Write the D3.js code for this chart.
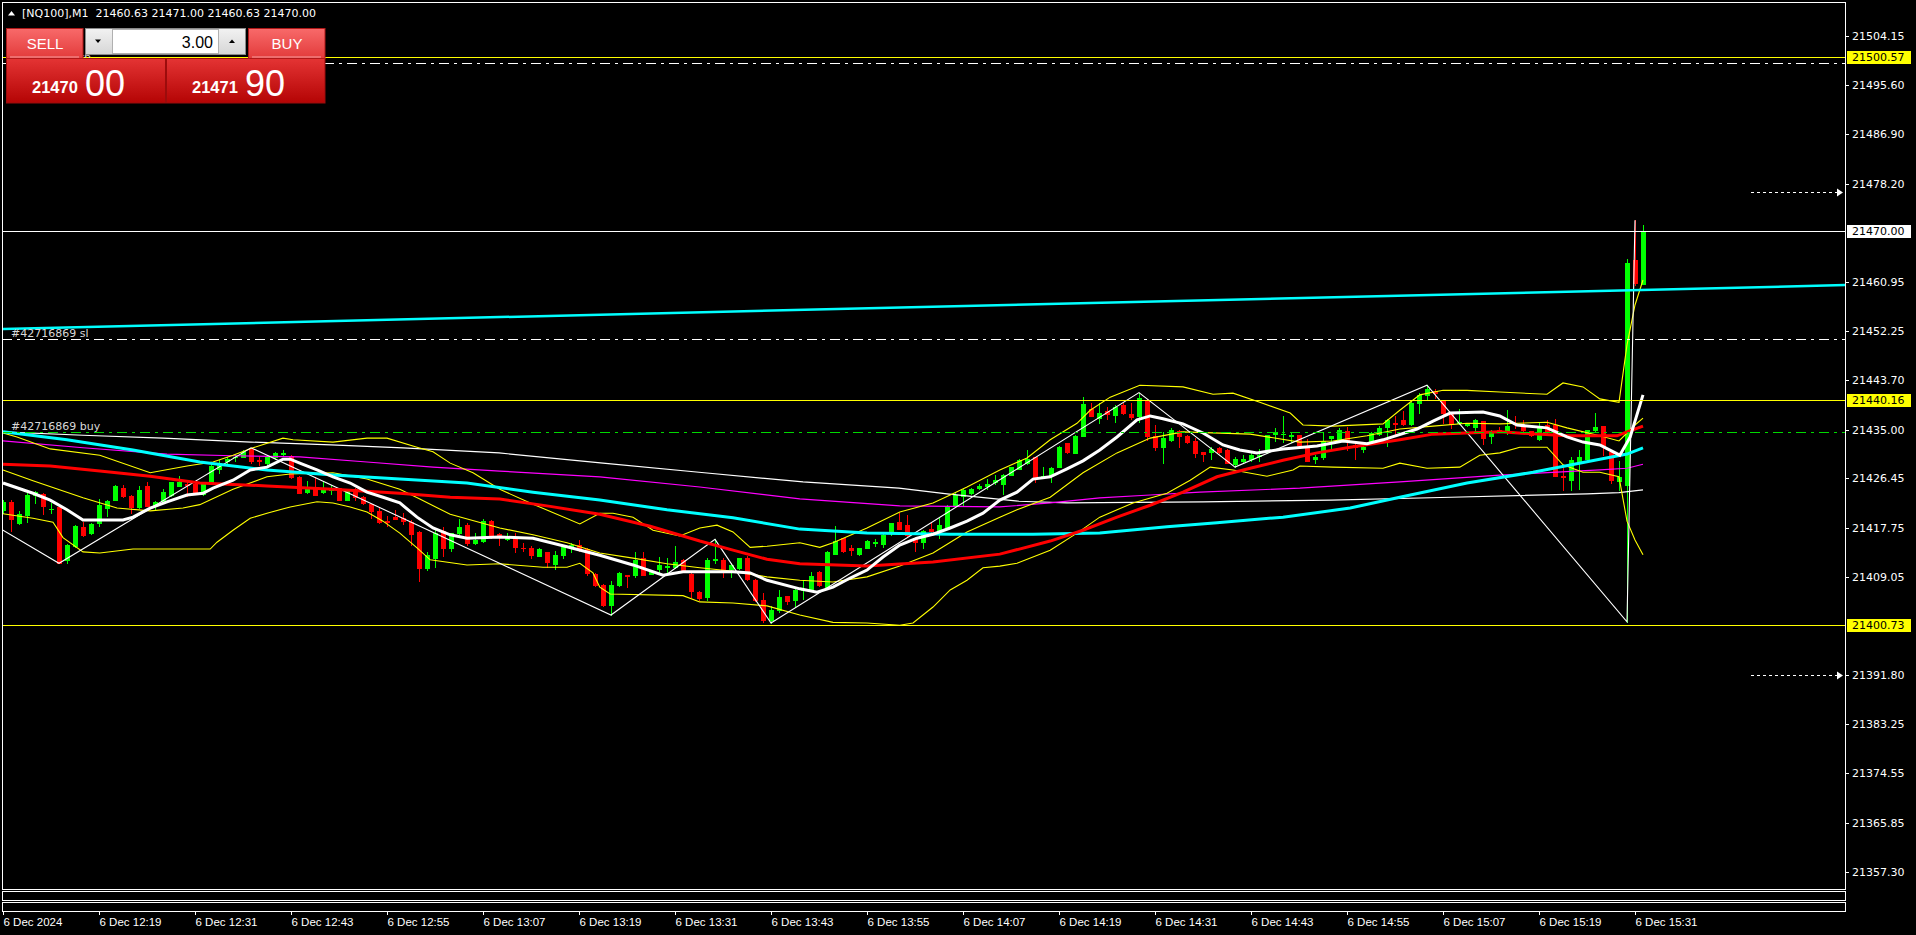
<!DOCTYPE html>
<html>
<head>
<meta charset="utf-8">
<script src="https://cdn.jsdelivr.net/npm/d3@7/dist/d3.min.js"></script>
<style>
html,body{margin:0;padding:0;background:#000;overflow:hidden;}
svg{display:block;}
</style>
</head>
<body>
<svg id="chart" width="1916" height="935"></svg>
<script>
// ================= DATA =================
const symbolTitle = "[NQ100],M1";
const headerOHLC = ["21460.63", "21471.00", "21460.63", "21470.00"];
const bidParts = ["21470", "00"];
const askParts = ["21471", "90"];
const lotSize = "3.00";
const orderId = "#42716869";

// 1-minute bars, 6 Dec 12:07 ... 15:32 (bar index 0..205)
const opens = [
21420.9,21422.3,21418.6,21420.0,21423.5,21423.7,21421.0,21421.4,21412.1,21414.5,
21417.9,21416.8,21418.5,21421.3,21422.6,21424.8,21423.3,21421.4,21425.0,21421.7,
21422.5,21423.5,21425.1,21425.4,21425.5,21423.6,21425.4,21428.1,21429.4,21430.1,
21430.2,21431.5,21429.6,21429.1,21430.1,21430.7,21430.4,21426.6,21424.1,21424.7,
21424.0,21424.3,21424.7,21422.6,21424.5,21423.1,21422.0,21420.6,21418.9,21419.6,
21419.4,21418.8,21417.0,21410.7,21412.4,21417.2,21414.1,21416.8,21418.2,21415.0,
21415.4,21418.9,21416.6,21415.8,21416.2,21414.2,21414.2,21412.8,21413.4,21411.4,
21412.9,21414.3,21414.7,21414.0,21409.6,21407.7,21404.1,21407.7,21409.4,21409.4,
21412.4,21409.6,21410.5,21410.8,21410.8,21412.1,21409.6,21406.4,21405.6,21412.1,
21412.1,21410.4,21410.7,21412.5,21408.6,21405.0,21401.6,21403.3,21405.7,21405.0,
21406.8,21406.9,21410.0,21407.4,21413.2,21415.9,21414.1,21413.1,21414.2,21415.0,
21414.9,21416.8,21418.7,21418.2,21415.9,21415.3,21417.5,21417.1,21417.9,21421.6,
21423.4,21423.8,21424.8,21425.1,21425.7,21425.5,21427.0,21428.1,21429.1,21430.1,
21426.6,21427.0,21428.5,21432.6,21430.8,21433.9,21438.7,21437.1,21438.2,21437.6,
21439.4,21437.7,21437.3,21440.2,21433.9,21431.9,21433.2,21434.8,21433.9,21433.0,
21431.0,21431.0,21431.7,21431.4,21429.0,21429.5,21429.8,21430.4,21431.1,21434.3,
21434.2,21433.9,21434.0,21431.8,21429.8,21430.1,21433.5,21433.2,21434.7,21432.3,
21431.5,21432.7,21434.3,21435.4,21436.2,21436.7,21435.9,21439.7,21441.1,21441.8,
21440.1,21438.1,21436.1,21435.8,21435.4,21436.5,21433.8,21435.0,21434.6,21436.2,
21435.6,21434.7,21433.3,21435.8,21435.8,21426.8,21426.1,21429.5,21429.8,21434.9,
21435.6,21431.0,21425.9,21425.3,21464.9,21460.63];
const highs = [
21422.7,21422.6,21420.7,21423.8,21424.2,21423.9,21422.1,21421.6,21414.9,21418.2,
21418.7,21418.6,21422.8,21422.6,21425.3,21425.2,21423.5,21425.1,21425.8,21422.5,
21424.5,21425.8,21426.8,21425.7,21426.0,21425.7,21429.1,21429.6,21430.1,21430.6,
21431.4,21431.8,21430.2,21430.2,21431.1,21431.4,21430.5,21426.8,21426.0,21426.7,
21425.8,21425.3,21424.8,21424.3,21424.7,21423.3,21422.0,21421.2,21419.8,21420.9,
21420.3,21419.1,21417.2,21413.5,21417.3,21417.8,21416.9,21419.2,21418.5,21416.8,
21419.2,21419.1,21416.8,21416.8,21416.8,21415.0,21414.6,21414.1,21413.5,21413.7,
21414.7,21415.0,21415.6,21414.1,21409.7,21407.9,21408.3,21410.0,21409.4,21413.5,
21413.4,21410.3,21412.6,21412.4,21414.5,21412.2,21409.7,21406.7,21412.4,21415.7,
21412.4,21411.5,21412.5,21412.8,21408.7,21406.3,21403.9,21406.8,21405.8,21406.9,
21408.6,21410.0,21410.1,21413.7,21418.1,21416.0,21414.7,21414.2,21415.6,21415.7,
21416.6,21418.6,21420.3,21419.9,21416.2,21417.3,21418.5,21419.4,21421.7,21423.8,
21424.5,21424.8,21425.4,21426.3,21427.0,21427.2,21428.5,21429.8,21431.4,21430.2,
21428.4,21428.4,21432.1,21432.7,21434.0,21440.8,21439.6,21439.6,21438.9,21439.3,
21439.6,21439.6,21441.5,21440.3,21435.8,21434.6,21435.2,21435.0,21434.0,21433.5,
21431.1,21431.9,21432.0,21431.5,21430.1,21430.5,21430.8,21431.5,21434.0,21435.2,
21437.4,21434.5,21434.0,21433.3,21430.5,21434.5,21433.9,21435.2,21435.5,21432.7,
21432.3,21434.6,21435.6,21436.8,21437.3,21438.3,21439.9,21441.4,21442.8,21442.2,
21440.2,21438.1,21438.6,21436.1,21436.8,21436.5,21435.0,21435.4,21438.4,21437.3,
21436.6,21434.7,21436.2,21436.6,21436.8,21428.5,21430.2,21431.4,21435.0,21438.0,
21435.6,21431.0,21429.4,21465.0,21471.8,21471.0];
const lows = [
21420.4,21417.2,21418.4,21418.8,21422.1,21420.2,21420.4,21411.5,21411.6,21414.4,
21416.3,21416.6,21418.0,21419.8,21422.6,21423.2,21420.3,21421.3,21421.6,21420.9,
21422.3,21423.4,21425.1,21423.3,21423.9,21423.5,21425.4,21427.4,21429.2,21429.4,
21430.1,21429.1,21428.8,21428.5,21429.9,21430.5,21426.4,21423.9,21423.9,21423.5,
21423.9,21423.7,21422.6,21422.6,21422.6,21422.0,21419.4,21418.6,21418.0,21419.2,
21418.4,21414.7,21408.3,21410.3,21410.9,21412.8,21413.7,21416.6,21414.7,21414.9,
21415.3,21415.9,21414.7,21415.6,21413.4,21413.7,21412.5,21412.8,21410.9,21410.4,
21412.4,21413.5,21413.7,21409.4,21407.5,21403.9,21402.4,21407.5,21407.4,21409.1,
21409.4,21409.6,21410.0,21409.7,21410.6,21410.2,21405.6,21405.0,21405.1,21411.6,
21409.1,21409.1,21410.4,21408.6,21404.9,21401.2,21401.0,21403.0,21404.3,21403.9,
21405.3,21406.8,21407.5,21407.2,21413.1,21413.5,21412.9,21412.9,21414.1,21414.5,
21414.4,21416.4,21417.5,21416.3,21413.7,21414.1,21416.9,21415.9,21417.9,21421.6,
21421.6,21423.7,21424.5,21424.5,21425.5,21423.7,21427.0,21428.0,21429.0,21425.8,
21426.4,21425.7,21428.4,21430.9,21430.8,21433.9,21437.3,21436.2,21436.8,21436.4,
21437.7,21436.8,21436.4,21433.2,21431.4,21429.1,21433.0,21431.9,21432.7,21430.1,
21429.4,21429.9,21430.8,21429.1,21428.4,21429.2,21429.5,21429.5,21430.8,21433.0,
21432.9,21432.9,21432.1,21429.4,21429.1,21429.9,21431.7,21432.9,21431.4,21429.8,
21431.1,21432.6,21434.0,21432.1,21434.3,21435.8,21435.8,21438.0,21440.2,21440.5,
21436.1,21435.2,21435.9,21435.6,21434.7,21432.5,21432.7,21434.5,21434.3,21435.2,
21434.6,21433.9,21433.2,21434.3,21426.8,21424.3,21424.4,21424.5,21429.7,21434.6,
21430.5,21425.6,21424.3,21401.2,21460.4,21460.63];
const closes = [
21422.3,21419.2,21420.1,21423.5,21424.0,21421.6,21421.1,21411.6,21414.7,21418.0,
21416.4,21418.4,21421.7,21422.4,21425.1,21423.3,21421.4,21424.4,21421.6,21422.2,
21424.1,21425.7,21425.7,21425.2,21424.1,21425.4,21428.6,21429.2,21429.9,21430.2,
21431.1,21429.5,21429.5,21430.1,21430.9,21430.9,21426.6,21423.9,21424.7,21423.5,
21424.4,21424.4,21422.6,21424.2,21423.2,21422.1,21420.7,21418.8,21418.7,21419.3,
21419.0,21416.6,21410.6,21412.9,21416.9,21414.1,21416.8,21417.9,21415.0,21415.5,
21418.9,21416.1,21416.3,21416.2,21414.3,21414.1,21412.9,21414.0,21411.8,21412.9,
21414.3,21414.7,21413.9,21409.8,21407.7,21404.1,21407.7,21409.7,21409.3,21412.1,
21409.5,21409.9,21411.2,21411.0,21411.7,21410.3,21406.7,21405.4,21412.1,21412.3,
21410.0,21411.2,21412.4,21408.7,21405.0,21401.6,21403.2,21405.6,21404.9,21406.8,
21407.0,21409.2,21407.7,21413.5,21415.4,21413.7,21413.8,21414.2,21415.4,21415.3,
21416.5,21418.5,21417.5,21416.5,21415.3,21417.1,21417.1,21418.2,21421.6,21423.5,
21424.4,21424.5,21425.1,21425.5,21426.1,21427.0,21428.4,21429.7,21429.9,21426.4,
21426.8,21428.2,21432.0,21431.1,21433.9,21439.5,21437.3,21438.0,21437.7,21439.0,
21437.9,21437.2,21440.5,21433.9,21432.0,21433.6,21435.0,21433.8,21432.8,21430.8,
21430.7,21431.6,21431.1,21429.2,21429.8,21429.8,21430.5,21430.5,21434.0,21434.5,
21434.3,21434.0,21432.3,21429.5,21430.2,21433.0,21433.8,21434.9,21433.2,21432.0,
21432.0,21434.4,21435.3,21436.6,21435.9,21435.9,21439.7,21441.1,21442.1,21441.5,
21437.9,21435.9,21436.4,21436.0,21436.6,21433.5,21434.7,21434.8,21435.6,21436.0,
21434.9,21434.0,21435.6,21434.8,21426.8,21426.6,21429.6,21430.1,21435.0,21435.4,
21432.1,21426.2,21426.7,21464.2,21460.7,21470.0];

const timeTickBars = [0,12,24,36,48,60,72,84,96,108,120,132,144,156,168,180,192,204];
const timeTickLabels = ["6 Dec 2024","6 Dec 12:19","6 Dec 12:31","6 Dec 12:43","6 Dec 12:55",
  "6 Dec 13:07","6 Dec 13:19","6 Dec 13:31","6 Dec 13:43","6 Dec 13:55","6 Dec 14:07",
  "6 Dec 14:19","6 Dec 14:31","6 Dec 14:43","6 Dec 14:55","6 Dec 15:07","6 Dec 15:19","6 Dec 15:31"];
const priceTicks = [21504.15,21495.60,21486.90,21478.20,21460.95,21452.25,21443.70,21435.00,
  21426.45,21417.75,21409.05,21391.80,21383.25,21374.55,21365.85,21357.30];

// indicator lines, [bar index, price]
const maFast = [[0,21425.6],[3.75,21423.8],[5.9,21422.6],[8,21420.9],[10,21419.1],[12.1,21419.1],[15,21419.1],[16.25,21419.6],[18.4,21421.2],[20.5,21422.3],[23,21423.5],[25,21423.8],[26.25,21424.7],[28.75,21426.1],[30.9,21427.9],[33,21428.4],[35,21429.8],[35.9,21429.8],[37.1,21429.1],[39.25,21427.9],[41.25,21426.7],[43.4,21425.6],[45.5,21424.0],[47.5,21423.1],[49.6,21422.1],[51.75,21419.6],[53.75,21417.7],[55.9,21416.5],[58,21415.9],[62.1,21416.1],[66.25,21415.9],[70.5,21414.4],[74.6,21412.9],[78.75,21411.2],[82.5,21409.4],[85,21410.0],[91.25,21410.0],[93.4,21409.8],[95.5,21408.5],[99.6,21407.0],[101.75,21406.4],[103.75,21407.3],[105.9,21408.9],[108,21410.3],[110,21412.6],[112.1,21414.7],[114.25,21415.9],[116.25,21416.6],[118.4,21417.7],[120.5,21418.9],[122.5,21420.3],[124.6,21422.6],[126.75,21424.0],[128.75,21426.3],[130.9,21426.7],[133,21428.1],[135,21429.5],[137.1,21431.4],[139.25,21433.7],[141.75,21436.7],[143.4,21437.4],[145,21436.9],[147.5,21436.0],[150,21434.4],[152.5,21432.3],[154.6,21431.4],[156.75,21430.9],[160,21431.6],[164.25,21432.1],[167.5,21433.0],[170.5,21432.5],[172.5,21433.2],[176.75,21435.1],[178.75,21436.5],[180.9,21437.9],[185,21438.1],[187.1,21437.4],[189.25,21435.8],[193,21435.3],[195.5,21433.7],[197.5,21432.8],[199.6,21432.3],[202.1,21430.5],[203.4,21433.7],[205,21441.1]];
const maMid = [[0,21428.9],[5.9,21428.6],[12.1,21427.7],[18.4,21426.8],[24.6,21425.6],[33,21425.1],[41.25,21424.5],[49.6,21423.8],[55.9,21423.1],[62.1,21422.8],[68.4,21421.5],[74.6,21420.1],[80.9,21418.0],[87.1,21415.4],[91.25,21413.8],[95.5,21412.2],[99.6,21411.4],[108,21411.0],[116.25,21411.7],[124.6,21413.1],[130.9,21415.4],[135,21417.3],[139.25,21419.6],[143.4,21421.7],[147.5,21424.0],[151.75,21426.7],[155.9,21428.2],[160,21429.6],[164.25,21430.9],[168.4,21431.9],[174.6,21433.2],[178.75,21434.2],[187.1,21434.6],[195.5,21433.9],[201.75,21433.9],[203.4,21434.8],[205,21435.6]];
const maSlow = [[0,21434.6],[8,21433.2],[16.25,21431.4],[24.6,21429.3],[33,21427.9],[41.25,21427.0],[49.6,21426.3],[58,21425.6],[66.25,21424.0],[74.6,21422.6],[83,21420.9],[91.25,21419.5],[99.6,21417.5],[108,21416.8],[118.4,21416.6],[128.75,21416.6],[137.1,21416.8],[145.5,21417.9],[151.75,21418.6],[160,21419.6],[168.4,21421.2],[174.6,21423.1],[183,21425.6],[191.25,21427.5],[199.6,21429.8],[203,21430.7],[205,21431.8]];
const maSlower = [[0,21433.0],[10,21431.8],[20.5,21430.7],[28.75,21430.4],[37.1,21430.2],[45.5,21429.3],[53.75,21428.4],[62.1,21427.7],[74.6,21426.7],[87.1,21424.9],[99.6,21422.8],[112.1,21421.6],[124.6,21421.4],[130.9,21422.1],[137.1,21423.0],[143.4,21423.5],[149.6,21424.0],[162.1,21424.7],[174.6,21425.8],[187.1,21427.0],[199.6,21427.9],[203,21428.2],[205,21428.9]];
const maSlowest = [[0,21434.6],[10,21434.0],[20,21433.5],[31,21432.8],[41,21432.3],[50,21431.8],[62,21430.9],[75,21429.1],[87,21427.5],[100,21425.8],[112,21424.7],[118,21423.7],[127,21422.4],[133,21422.1],[150,21422.3],[166,21422.6],[181,21423.1],[198,21423.7],[202,21423.9],[205,21424.4]];
const bbUpper = [[0,21434.4],[1.75,21433.7],[5.9,21431.6],[12.1,21430.5],[18.4,21427.4],[23,21428.6],[26.25,21429.3],[28.75,21430.5],[31.25,21431.8],[35,21433.5],[36.25,21433.2],[41.25,21432.8],[45.5,21433.5],[48,21433.5],[51.75,21431.9],[53.75,21431.1],[55.9,21429.1],[58.75,21427.4],[62.1,21424.5],[65.9,21422.1],[72.1,21418.4],[74.6,21420.3],[76.25,21420.3],[78.75,21419.6],[81.25,21417.3],[84.6,21416.3],[87.1,21417.7],[89.25,21418.2],[91.25,21417.0],[93.4,21414.3],[95.5,21414.5],[99.6,21415.1],[102.1,21414.3],[103.75,21415.1],[108,21417.7],[112.1,21420.5],[116.25,21422.1],[118.4,21423.5],[120.5,21424.9],[124.6,21427.9],[128,21430.0],[130.9,21433.2],[134.25,21436.1],[135.9,21438.4],[138.4,21440.7],[142.1,21442.8],[147.5,21442.5],[151.25,21441.2],[153.75,21441.4],[157.1,21439.8],[160.9,21437.9],[162.5,21435.8],[166.25,21435.6],[172.5,21436.0],[174.6,21438.4],[177.1,21441.1],[180,21441.9],[183,21441.9],[187.1,21441.6],[193,21441.2],[195,21443.2],[197.5,21442.5],[199.6,21440.4],[202,21439.8],[203,21449.9],[204,21456.9],[205,21461.3]];
const bbMiddle = [[0,21427.9],[3.75,21426.0],[10,21423.0],[14.25,21421.2],[18.4,21420.7],[22.5,21421.2],[24.6,21421.8],[28.75,21424.5],[33,21426.7],[35.9,21427.2],[41.25,21427.4],[45.5,21426.3],[49.6,21424.5],[52.1,21422.8],[55.9,21420.1],[62.1,21417.7],[66.25,21416.5],[70.5,21415.1],[74.6,21413.3],[78.75,21412.4],[83,21411.4],[87.1,21410.7],[91.25,21410.1],[95.5,21409.1],[99.6,21408.5],[103.75,21408.2],[108,21409.1],[112.1,21411.0],[116.25,21413.3],[120.5,21417.0],[124.6,21419.6],[126.75,21420.9],[130.9,21423.1],[135,21427.4],[139.25,21430.9],[143.4,21433.5],[147.5,21434.6],[155.9,21434.2],[162.1,21432.8],[166.25,21433.0],[170.5,21433.9],[174.6,21435.1],[178.75,21435.6],[183,21436.1],[187.1,21436.0],[193,21436.3],[195.5,21435.3],[199.6,21433.9],[202,21433.0],[203,21434.4],[204,21435.8],[205,21437.0]];
const bbLower = [[0,21420.2],[3.75,21419.4],[6.25,21418.7],[7.5,21416.0],[10,21413.5],[12.1,21413.3],[16.25,21414.0],[25.9,21414.0],[26.75,21415.2],[28.75,21417.3],[30.9,21419.4],[33,21420.3],[35.9,21421.4],[39.25,21422.3],[41.25,21422.1],[43.4,21421.4],[45.5,21420.5],[47.5,21418.9],[49.6,21416.8],[51.75,21414.2],[53.4,21412.1],[58,21411.2],[62.1,21411.4],[67.5,21410.8],[70.5,21410.8],[72.1,21411.5],[73.75,21409.8],[74.6,21407.3],[75.9,21406.1],[85,21405.8],[87.1,21404.7],[91.25,21404.5],[95.5,21404.0],[99.6,21402.4],[103.75,21401.1],[108,21401.0],[112.1,21400.6],[113.75,21401.0],[116.25,21403.8],[118.4,21406.8],[120.5,21408.5],[122.5,21410.7],[124.6,21411.0],[126.75,21411.5],[130.9,21413.8],[134.25,21416.8],[137.1,21419.6],[141.25,21422.1],[145.5,21423.8],[148.4,21426.1],[150.9,21428.4],[153.75,21427.9],[158,21426.8],[161.25,21427.9],[162.1,21428.6],[166.25,21428.4],[172.5,21428.2],[174.6,21429.1],[178,21428.2],[182.1,21428.4],[184.6,21430.5],[187.1,21430.9],[189.6,21431.9],[193,21431.9],[195,21428.8],[197.5,21427.5],[199.6,21427.5],[202,21426.7],[203,21418.9],[204,21415.6],[205,21413.0]];
const zigzag = [[-10,21425.6],[7,21411.5],[31,21431.8],[76,21402.4],[89,21415.7],[96,21401.0],[142,21441.5],[154,21428.4],[178,21442.8],[203,21401.2],[204,21471.8]];

// chart objects
const trendline = [[0,21452.7],[230.25,21460.4]];
const yellowLevels = [21500.57, 21440.16, 21400.73];
const bidLevel = 21470.00;
const tpLevel = 21499.4;
const slLevel = 21450.9;
const entryLevel = 21434.5;
const arrowLevels = [21476.8, 21391.8];

// ================= DRAW =================
const svg = d3.select("#chart");
const x = d3.scaleLinear().domain([0, 205]).range([3, 1643]);
const y = d3.scaleLinear().domain([21400.73, 21470]).range([624.5, 230.5]);
const L = 2, R = 1845, T = 2, B = 889;

const defs = svg.append("defs");
defs.append("clipPath").attr("id","plotClip").append("rect")
  .attr("x",L).attr("y",T).attr("width",R-L).attr("height",B-T);
function grad(id, stops){
  const g = defs.append("linearGradient").attr("id",id).attr("x1",0).attr("y1",0).attr("x2",0).attr("y2",1);
  stops.forEach(s => g.append("stop").attr("offset",s[0]).attr("stop-color",s[1]));
}
grad("gTop", [[0,"#f86a6a"],[1,"#e23a3a"]]);
grad("gBot", [[0,"#e43434"],[1,"#b40404"]]);
grad("gLot", [[0,"#f2f2f2"],[1,"#d6d6d6"]]);

svg.append("rect").attr("width",1916).attr("height",935).attr("fill","#000");

const plot = svg.append("g").attr("clip-path","url(#plotClip)");

// candles
const candles = plot.append("g").attr("shape-rendering","crispEdges");
d3.range(opens.length).forEach(i => {
  const o = opens[i], c = closes[i], h = highs[i], l = lows[i];
  const col = c >= o ? "#00ff00" : "#ff0000";
  const xc = Math.round(x(i));
  const yh = Math.round(y(h)), yl = Math.round(y(l));
  candles.append("rect").attr("x",xc).attr("y",yh).attr("width",1).attr("height",Math.max(1,yl-yh+1)).attr("fill",col);
  const yt = Math.round(y(Math.max(o,c))), yb = Math.round(y(Math.min(o,c)));
  candles.append("rect").attr("x",xc-2).attr("y",yt).attr("width",5).attr("height",Math.max(1,yb-yt+1)).attr("fill",col);
});

// indicators
const line = d3.line().x(d => x(d[0])).y(d => y(d[1]));
const ind = plot.append("g").attr("fill","none");
ind.append("path").datum(maSlowest).attr("d",line).attr("stroke","#ffffff").attr("stroke-width",1.2);
ind.append("path").datum(maSlower).attr("d",line).attr("stroke","#ff00ff").attr("stroke-width",1.2);
[bbUpper, bbMiddle, bbLower].forEach(d => ind.append("path").datum(d).attr("d",line).attr("stroke","#ffff00").attr("stroke-width",1.1));
ind.append("path").datum(zigzag).attr("d",line).attr("stroke","#ffffff").attr("stroke-width",1.1);
ind.append("path").datum(maSlow).attr("d",line).attr("stroke","#00ffff").attr("stroke-width",3);
ind.append("path").datum(maMid).attr("d",line).attr("stroke","#ff0000").attr("stroke-width",3);
ind.append("path").datum(maFast).attr("d",line).attr("stroke","#ffffff").attr("stroke-width",3);

// objects
const obj = plot.append("g").attr("fill","none");
function hline(p, color, dash, w){
  const yy = Math.round(y(p)) + 0.5;
  obj.append("line").attr("x1",L).attr("x2",R).attr("y1",yy).attr("y2",yy)
    .attr("stroke",color).attr("stroke-width",w || 1).attr("stroke-dasharray",dash || null)
    .attr("shape-rendering","crispEdges");
}
yellowLevels.forEach(p => hline(p, "#ffff00"));
hline(bidLevel, "#ffffff");
hline(tpLevel, "#ffffff", "10,5,3,5");
hline(slLevel, "#ffffff", "10,5,3,5");
hline(entryLevel, "#00d800", "10,5,3,5");
obj.append("path").datum(trendline).attr("d",line).attr("stroke","#00ffff").attr("stroke-width",2.5);

const lbl = plot.append("g").style("font","11px 'DejaVu Sans', sans-serif").attr("fill","#d8d8d8");
lbl.append("text").attr("x",11).attr("y",Math.round(y(tpLevel))-2).text(orderId + " tp");
lbl.append("text").attr("x",11).attr("y",Math.round(y(slLevel))-2).text(orderId + " sl");
lbl.append("text").attr("x",11).attr("y",Math.round(y(entryLevel))-2).text(orderId + " buy");

arrowLevels.forEach(p => {
  const yy = Math.round(y(p)) + 0.5;
  obj.append("line").attr("x1",1751).attr("x2",1837).attr("y1",yy).attr("y2",yy)
    .attr("stroke","#ffffff").attr("stroke-dasharray","3,3").attr("shape-rendering","crispEdges");
  obj.append("path").attr("d",`M1837,${yy-4}L1843,${yy}L1837,${yy+4}Z`).attr("fill","#ffffff");
});

// frames
const fr = svg.append("g").attr("fill","none").attr("stroke","#ffffff").attr("shape-rendering","crispEdges");
fr.append("rect").attr("x",L+0.5).attr("y",T+0.5).attr("width",R-L-0.5).attr("height",B-T-0.5);
fr.append("rect").attr("x",L+0.5).attr("y",891.5).attr("width",R-L-0.5).attr("height",9);
fr.append("rect").attr("x",L+0.5).attr("y",902.5).attr("width",R-L-0.5).attr("height",8.5);

// price axis
const yAxis = d3.axisRight(y).tickValues(priceTicks).tickSize(4).tickFormat(d3.format(".2f"));
svg.append("g").attr("transform",`translate(${R},0)`).call(yAxis)
  .call(g => g.select(".domain").remove())
  .call(g => g.selectAll("line").attr("stroke","#ffffff").attr("shape-rendering","crispEdges"))
  .call(g => g.selectAll("text").attr("fill","#ffffff").attr("x",7)
     .style("font","11px 'DejaVu Sans', sans-serif"));

// price boxes
function priceBox(p, bg){
  const yy = Math.round(y(p));
  svg.append("rect").attr("x",1847).attr("y",yy-6).attr("width",64).attr("height",13).attr("fill",bg);
  svg.append("text").attr("x",1852).attr("y",yy+4).attr("fill","#000")
    .style("font","11px 'DejaVu Sans', sans-serif").text(d3.format(".2f")(p));
}
yellowLevels.forEach(p => priceBox(p, "#ffff00"));
priceBox(bidLevel, "#ffffff");

// time axis
const xAxis = d3.axisBottom(x).tickValues(timeTickBars).tickSize(4)
  .tickFormat(d => timeTickLabels[timeTickBars.indexOf(d)]);
svg.append("g").attr("transform","translate(0,911)").call(xAxis)
  .call(g => g.select(".domain").remove())
  .call(g => g.selectAll("line").attr("stroke","#ffffff").attr("shape-rendering","crispEdges"))
  .call(g => g.selectAll("text").attr("fill","#ffffff").attr("text-anchor","start").attr("x",0).attr("y",7)
     .style("font","11.5px 'Liberation Sans', Arial, sans-serif"));

// header
svg.append("path").attr("d","M8,15.5L11.5,11L15,15.5Z").attr("fill","#ffffff");
svg.append("text").attr("x",22).attr("y",17).attr("fill","#ffffff").style("white-space","pre")
  .style("font","11px 'DejaVu Sans', sans-serif")
  .text(symbolTitle + "  " + headerOHLC.join(" "));

// one-click trading panel
const pn = svg.append("g").style("font-family","'Liberation Sans', Arial, sans-serif");
pn.append("rect").attr("x",6.5).attr("y",58.5).attr("width",159).attr("height",44.5).attr("fill","url(#gBot)").attr("stroke","#9c0c0c");
pn.append("rect").attr("x",166.5).attr("y",58.5).attr("width",158.5).attr("height",44.5).attr("fill","url(#gBot)").attr("stroke","#9c0c0c");
pn.append("rect").attr("x",6.5).attr("y",28.5).attr("width",76.5).attr("height",30).attr("fill","url(#gTop)").attr("stroke","#b01818");
pn.append("rect").attr("x",248.5).attr("y",28.5).attr("width",76.5).attr("height",30).attr("fill","url(#gTop)").attr("stroke","#b01818");
pn.append("line").attr("x1",10).attr("x2",79).attr("y1",57).attr("y2",57).attr("stroke","#f7a0a0");
pn.append("line").attr("x1",252).attr("x2",321).attr("y1",57).attr("y2",57).attr("stroke","#f7a0a0");
pn.append("text").attr("x",45).attr("y",49).attr("text-anchor","middle").attr("fill","#fff").style("font-size","15px").text("SELL");
pn.append("text").attr("x",287).attr("y",49).attr("text-anchor","middle").attr("fill","#fff").style("font-size","15px").text("BUY");
// lot box
pn.append("rect").attr("x",85.5).attr("y",28.5).attr("width",160).attr("height",26).attr("fill","url(#gLot)").attr("stroke","#8a8a8a");
pn.append("rect").attr("x",112.5).attr("y",29.5).attr("width",106).attr("height",24).attr("fill","#ffffff").attr("stroke","#b0b0b0");
pn.append("path").attr("d","M95,39.5L101,39.5L98,43Z").attr("fill","#000");
pn.append("path").attr("d","M229,43L235,43L232,39.5Z").attr("fill","#000");
pn.append("text").attr("x",213).attr("y",47.5).attr("text-anchor","end").attr("fill","#000").style("font-size","16px").text(lotSize);
// prices
pn.append("text").attr("x",32).attr("y",92.5).attr("fill","#fff").style("font-size","16.5px").style("font-weight","bold").text(bidParts[0]);
pn.append("text").attr("x",85).attr("y",96).attr("fill","#fff").style("font-size","36px").text(bidParts[1]);
pn.append("text").attr("x",192).attr("y",92.5).attr("fill","#fff").style("font-size","16.5px").style("font-weight","bold").text(askParts[0]);
pn.append("text").attr("x",245).attr("y",96).attr("fill","#fff").style("font-size","36px").text(askParts[1]);
</script>
</body>
</html>
